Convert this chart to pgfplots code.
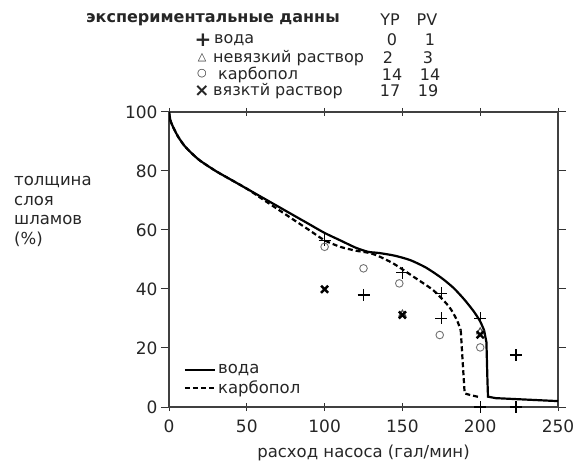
\documentclass[border=0pt]{standalone}
\usepackage{pgfplots}
\pgfplotsset{compat=1.18}
\usepackage{fontspec}
\setmainfont{DejaVu Sans}
\newcommand{\fs}{\fontsize{16.5}{19}\selectfont}
\newcommand{\fsh}{\fontsize{16}{18}\selectfont}
\newcommand{\fst}{\fontsize{17}{19}\selectfont}
\definecolor{ink}{gray}{0.15}
\begin{document}
\begin{tikzpicture}[font=\fs, text=ink]
\path[use as bounding box] (-169pt,-55pt) rectangle (408pt,407pt);
\begin{axis}[
  at={(0pt,0pt)}, anchor=south west,
  scale only axis, width=389pt, height=295pt,
  xmin=0, xmax=250, ymin=0, ymax=100,
  xtick={0,50,...,250}, ytick={0,20,...,100},
  axis line style={line width=1.3pt, black!75},
  tick style={line width=1pt, black!80},
  major tick length=8pt,
  xtick align=center, ytick align=outside,
  tick label style={font=\fst, text=ink},
  xticklabel style={yshift=-5pt},
  /pgf/number format/assume math mode=true,
  xlabel={расход насоса (гал/мин)},
  xlabel style={font=\fs, text=ink, yshift=-6pt},
  legend style={draw=none, fill=none, at={(0.03,0.025)}, anchor=south west, font=\fs, text=ink, row sep=2pt},
  legend cell align=left,
  legend image code/.code={\draw[#1] (0pt,0pt) -- (30pt,0pt);},
]
% water model curve
\addplot[line width=2.2pt, black, smooth, tension=0.4] coordinates {
(0,100) (1,97) (3,94.5) (6,91.5) (10,88.5) (15,85.8) (20,83.5) (30,80) (40,77)
(50,74) (60,71) (70,68) (80,65) (90,62) (100,59) (110,56.5) (120,54) (128,52.6)
(135,52.2) (145,51.3) (155,49.8) (165,47.3) (175,43.8) (183,40.3) (190,36.3)
(196,32.3) (200,29) (202.5,26)};
\addlegendentry{вода}
% carbopol model curve
\addplot[line width=2.2pt, black, dashed, dash pattern=on 5pt off 3pt, smooth, tension=0.4] coordinates {
(0,100) (1,97) (3,94.5) (6,91.5) (10,88.5) (15,85.8) (20,83.5) (30,80) (40,77)
(50,74) (60,70.5) (70,67) (80,63.5) (90,60) (100,56.5) (110,54.3) (120,53) (128,52.3)
(134,51.3) (144,48.7) (157,44.2) (170,39.5) (180,34) (185,29.5) (187.5,26)};
\addlegendentry{карбопол}
% vertical drops and tails
\addplot[line width=2.2pt, black, forget plot] coordinates {
(202.5,26) (204,22) (204.6,10) (205,3.5) (210,3) (250,2)};
\addplot[line width=2.2pt, black, dashed, dash pattern=on 5pt off 3pt, forget plot] coordinates {
(187.5,26) (188.3,19) (190,4.6) (194,4) (200,3.3)};
% data: water (+)
\addplot[only marks, mark=+, mark size=6pt, line width=1.4pt, black, forget plot] coordinates {
(100,56.5) (125,38) (150,45.5) (175,30) (175,38.5) (200,30) (223,17.6) (200,0) (223,0)};
% data: non-viscous solution (triangle)
\addplot[only marks, mark=triangle, mark size=4pt, line width=1pt, black!70, forget plot] coordinates {
(150,31.5) (200,25.5)};
% data: carbopol (circle)
\addplot[only marks, mark=o, mark size=3.8pt, line width=0.9pt, black!55, forget plot] coordinates {
(100,54.3) (125,47) (148,41.9) (174,24.4) (200,20.2)};
% data: viscous solution (x)
\addplot[only marks, mark=x, mark size=5pt, line width=2.4pt, black, forget plot] coordinates {
(100,39.9) (150,31.2) (200,24.5)};
\end{axis}
% header legend table
\begin{scope}[every node/.style={inner sep=0pt, font=\fsh}]
\node[anchor=west, font=\fontsize{16}{19}\selectfont\bfseries] at (-83pt,387pt) {экспериментальные данны};
\node at (221pt,387pt) {YP};
\node at (258pt,387pt) {PV};
\node at (34pt,367pt) {\fontsize{20}{20}\selectfont\bfseries +};
\node[anchor=west] at (45pt,367pt) {вода};
\node at (223pt,367pt) {0};
\node at (261pt,367pt) {1};
\node at (33pt,349pt) {\fontsize{11}{12}\selectfont △};
\node[anchor=west] at (44pt,349pt) {невязкий раствор};
\node at (219pt,349pt) {2};
\node at (259pt,349pt) {3};
\node at (33pt,333pt) {\fontsize{11}{12}\selectfont ○};
\node[anchor=west] at (49pt,332pt) {карбопол};
\node at (223pt,332pt) {14};
\node at (261pt,332pt) {14};
\node at (33pt,316pt) {\fontsize{18}{18}\selectfont\bfseries ×};
\node[anchor=west] at (44pt,316pt) {вязктй раствор};
\node at (221pt,316pt) {17};
\node at (259pt,316pt) {19};
\end{scope}
% y-axis label
\begin{scope}[every node/.style={inner sep=0pt}]
\node[anchor=west] at (-155pt,225pt) {толщина};
\node[anchor=west] at (-155pt,206pt) {слоя};
\node[anchor=west] at (-155pt,187pt) {шламов};
\node[anchor=west] at (-155pt,168pt) {(\%)};
\end{scope}
\end{tikzpicture}
\end{document}
